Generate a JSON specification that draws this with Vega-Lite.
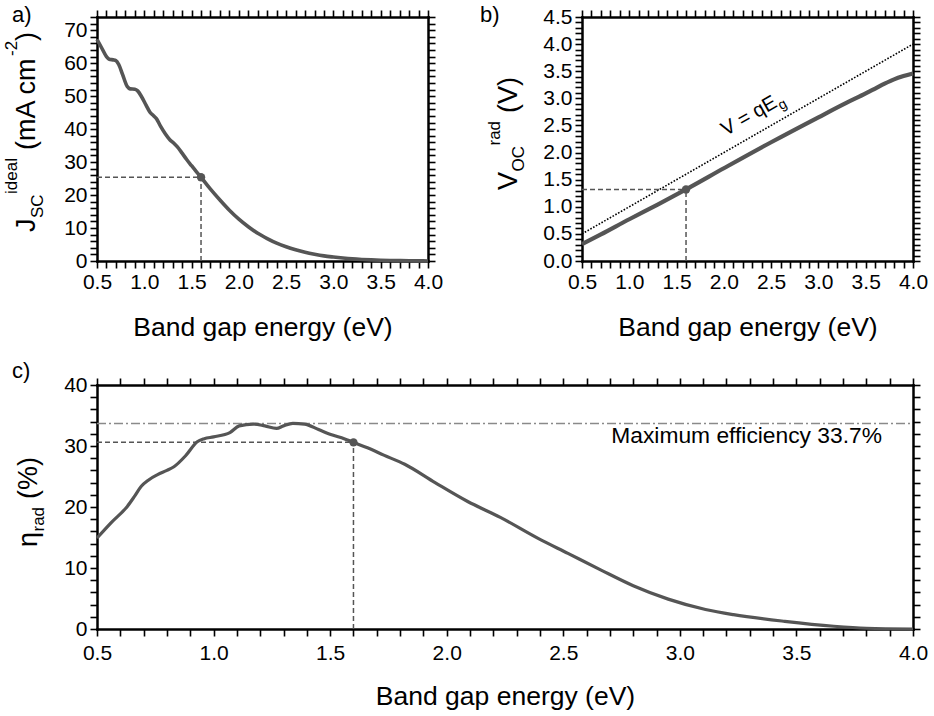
{
  "$schema": "https://vega.github.io/schema/vega-lite/v6.json",
  "background": "white",
  "padding": {"left": 2, "top": 4, "right": 4, "bottom": 4},
  "bounds": "flush",
  "config": {
    "font": "Liberation Sans",
    "view": {"stroke": null},
    "axis": {
      "domainColor": "black", "domainWidth": 2.5, "domainCap": "square",
      "tickColor": "black", "tickWidth": 1.6, "tickSize": 7,
      "labelFont": "Liberation Sans", "labelFontSize": 21, "labelColor": "black", "labelPadding": 3,
      "titleFont": "Liberation Sans", "titleFontSize": 26.5, "titleFontWeight": "normal", "titleColor": "black", "titlePadding": 22,
      "grid": false, "labelOverlap": false, "labelFlush": false, "labelBound": false
    },
    "text": {"font": "Liberation Sans", "color": "black"}
  },
  "datasets": {
    "jsc": [
      {"E": 0.5, "J": 67.2}, {"E": 0.55, "J": 64.6}, {"E": 0.6, "J": 62.0}, {"E": 0.63, "J": 61.2},
      {"E": 0.67, "J": 61.0}, {"E": 0.7, "J": 60.8}, {"E": 0.73, "J": 59.6}, {"E": 0.77, "J": 56.6},
      {"E": 0.82, "J": 52.9}, {"E": 0.85, "J": 52.2}, {"E": 0.9, "J": 52.1}, {"E": 0.93, "J": 51.6},
      {"E": 0.97, "J": 49.9}, {"E": 1.02, "J": 47.2}, {"E": 1.06, "J": 45.1}, {"E": 1.1, "J": 44.0},
      {"E": 1.13, "J": 43.1}, {"E": 1.17, "J": 41.0}, {"E": 1.22, "J": 38.7}, {"E": 1.27, "J": 36.8},
      {"E": 1.31, "J": 35.8}, {"E": 1.35, "J": 34.6}, {"E": 1.4, "J": 32.7}, {"E": 1.45, "J": 30.7},
      {"E": 1.5, "J": 28.9}, {"E": 1.55, "J": 27.1}, {"E": 1.6, "J": 25.4}, {"E": 1.7, "J": 21.8},
      {"E": 1.8, "J": 18.5}, {"E": 1.9, "J": 15.4}, {"E": 2.0, "J": 12.7}, {"E": 2.1, "J": 10.4},
      {"E": 2.2, "J": 8.4}, {"E": 2.3, "J": 6.8}, {"E": 2.4, "J": 5.4}, {"E": 2.5, "J": 4.3},
      {"E": 2.6, "J": 3.4}, {"E": 2.7, "J": 2.65}, {"E": 2.8, "J": 2.05}, {"E": 2.9, "J": 1.55},
      {"E": 3.0, "J": 1.2}, {"E": 3.1, "J": 0.9}, {"E": 3.2, "J": 0.65}, {"E": 3.3, "J": 0.47},
      {"E": 3.4, "J": 0.33}, {"E": 3.5, "J": 0.23}, {"E": 3.6, "J": 0.16}, {"E": 3.7, "J": 0.11},
      {"E": 3.8, "J": 0.07}, {"E": 3.9, "J": 0.04}, {"E": 4.0, "J": 0.02}
    ],
    "voc": [
      {"E": 0.5, "V": 0.31}, {"E": 0.7, "V": 0.49}, {"E": 1.0, "V": 0.77}, {"E": 1.3, "V": 1.04},
      {"E": 1.6, "V": 1.32}, {"E": 2.0, "V": 1.71}, {"E": 2.5, "V": 2.19}, {"E": 3.0, "V": 2.65},
      {"E": 3.3, "V": 2.92}, {"E": 3.5, "V": 3.09}, {"E": 3.6, "V": 3.18}, {"E": 3.7, "V": 3.27},
      {"E": 3.8, "V": 3.35}, {"E": 3.9, "V": 3.41}, {"E": 4.0, "V": 3.46}
    ],
    "vlimit": [
      {"E": 0.5, "V": 0.5}, {"E": 4.0, "V": 4.0}
    ],
    "eff": [
      {"E": 0.5, "n": 14.9}, {"E": 0.56, "n": 17.4}, {"E": 0.63, "n": 20.1}, {"E": 0.66, "n": 21.7},
      {"E": 0.69, "n": 23.4}, {"E": 0.72, "n": 24.4}, {"E": 0.76, "n": 25.3}, {"E": 0.8, "n": 26.0},
      {"E": 0.83, "n": 26.6}, {"E": 0.88, "n": 28.4}, {"E": 0.93, "n": 30.7}, {"E": 0.96, "n": 31.2},
      {"E": 1.0, "n": 31.5}, {"E": 1.07, "n": 32.2}, {"E": 1.11, "n": 33.3}, {"E": 1.17, "n": 33.6},
      {"E": 1.22, "n": 33.3}, {"E": 1.27, "n": 32.9}, {"E": 1.3, "n": 33.3}, {"E": 1.34, "n": 33.7},
      {"E": 1.39, "n": 33.6}, {"E": 1.45, "n": 32.7}, {"E": 1.51, "n": 31.8}, {"E": 1.56, "n": 31.2},
      {"E": 1.6, "n": 30.6}, {"E": 1.66, "n": 29.7}, {"E": 1.73, "n": 28.5}, {"E": 1.82, "n": 27.0},
      {"E": 1.95, "n": 24.0}, {"E": 2.09, "n": 20.9}, {"E": 2.23, "n": 18.3}, {"E": 2.39, "n": 14.9},
      {"E": 2.52, "n": 12.4}, {"E": 2.66, "n": 9.7}, {"E": 2.8, "n": 7.1}, {"E": 2.95, "n": 4.9},
      {"E": 3.11, "n": 3.2}, {"E": 3.23, "n": 2.35}, {"E": 3.45, "n": 1.25}, {"E": 3.66, "n": 0.45},
      {"E": 3.8, "n": 0.12}, {"E": 4.0, "n": 0.0}
    ]
  },
  "vconcat": [
    {
      "bounds": "flush",
      "spacing": 154,
      "hconcat": [
        {
          "width": 331, "height": 244,
          "data": {"name": "jsc"},
          "layer": [
            {
              "mark": {"type": "line", "color": "#555555", "strokeWidth": 3.6, "interpolate": "monotone"},
              "encoding": {
                "x": {"field": "E", "type": "quantitative", "scale": {"domain": [0.5, 4], "nice": false, "zero": false},
                  "axis": {"orient": "bottom", "title": "Band gap energy (eV)", "format": ".1f",
                    "values": [0.5,0.6,0.7,0.8,0.9,1.0,1.1,1.2,1.3,1.4,1.5,1.6,1.7,1.8,1.9,2.0,2.1,2.2,2.3,2.4,2.5,2.6,2.7,2.8,2.9,3.0,3.1,3.2,3.3,3.4,3.5,3.6,3.7,3.8,3.9,4.0],
                    "labelExpr": "abs(datum.value*2-round(datum.value*2)) < 0.01 ? datum.label : ''",
                    "encode": {"ticks": {"update": {"y2": {"signal": "abs(datum.value*2-round(datum.value*2)) < 0.01 ? 7 : 4"}}}}}},
                "y": {"field": "J", "type": "quantitative", "scale": {"domain": [0, 74], "nice": false, "zero": false},
                  "axis": {"orient": "left", "title": null, "format": "d",
                    "values": [0,2,4,6,8,10,12,14,16,18,20,22,24,26,28,30,32,34,36,38,40,42,44,46,48,50,52,54,56,58,60,62,64,66,68,70,72,74],
                    "labelExpr": "datum.value % 10 === 0 ? datum.label : ''",
                    "encode": {"ticks": {"update": {"x2": {"signal": "datum.value % 10 === 0 ? -7 : -4"}}}}}}
              }
            },
            {
              "mark": {"type": "line", "opacity": 0},
              "encoding": {
                "x": {"field": "E", "type": "quantitative", "scale": {"domain": [0.5, 4], "nice": false, "zero": false},
                  "axis": {"orient": "top", "title": null, "labels": false,
                    "values": [0.5,0.6,0.7,0.8,0.9,1.0,1.1,1.2,1.3,1.4,1.5,1.6,1.7,1.8,1.9,2.0,2.1,2.2,2.3,2.4,2.5,2.6,2.7,2.8,2.9,3.0,3.1,3.2,3.3,3.4,3.5,3.6,3.7,3.8,3.9,4.0],
                    "encode": {"ticks": {"update": {"y2": {"signal": "abs(datum.value*2-round(datum.value*2)) < 0.01 ? -7 : -4"}}}}}},
                "y": {"field": "J", "type": "quantitative", "scale": {"domain": [0, 74], "nice": false, "zero": false},
                  "axis": {"orient": "right", "title": null, "labels": false,
                    "values": [0,2,4,6,8,10,12,14,16,18,20,22,24,26,28,30,32,34,36,38,40,42,44,46,48,50,52,54,56,58,60,62,64,66,68,70,72,74],
                    "encode": {"ticks": {"update": {"x2": {"signal": "datum.value % 10 === 0 ? 7 : 4"}}}}}}
              }
            },
            {
              "data": {"values": [{}]},
              "mark": {"type": "rule", "color": "#555555", "strokeWidth": 1.5, "strokeDash": [5, 3]},
              "encoding": {"x": {"datum": 0.5, "axis": null}, "x2": {"datum": 1.6}, "y": {"datum": 25.4, "axis": null}}
            },
            {
              "data": {"values": [{}]},
              "mark": {"type": "rule", "color": "#555555", "strokeWidth": 1.5, "strokeDash": [5, 3]},
              "encoding": {"x": {"datum": 1.6, "axis": null}, "y": {"datum": 0, "axis": null}, "y2": {"datum": 25.4}}
            },
            {
              "data": {"values": [{}]},
              "mark": {"type": "circle", "size": 70, "color": "#555555", "opacity": 1},
              "encoding": {"x": {"datum": 1.6, "axis": null}, "y": {"datum": 25.4, "axis": null}}
            },
            {
              "data": {"values": [{}]},
              "mark": {"type": "text", "text": "a)", "fontSize": 22, "align": "left", "baseline": "alphabetic", "dx": -85, "dy": 5},
              "encoding": {"x": {"datum": 0.5, "axis": null}, "y": {"datum": 74, "axis": null}}
            },
            {
              "data": {"values": [{}]},
              "mark": {"type": "text", "text": "J", "fontSize": 27, "angle": 270, "align": "left", "baseline": "alphabetic", "dx": 29, "dy": -62},
              "encoding": {"x": {"datum": 0.5, "axis": null}, "y": {"datum": 0, "axis": null}}
            },
            {
              "data": {"values": [{}]},
              "mark": {"type": "text", "text": "SC", "fontSize": 17, "angle": 270, "align": "left", "baseline": "alphabetic", "dx": 43, "dy": -54},
              "encoding": {"x": {"datum": 0.5, "axis": null}, "y": {"datum": 0, "axis": null}}
            },
            {
              "data": {"values": [{}]},
              "mark": {"type": "text", "text": "ideal", "fontSize": 17, "angle": 270, "align": "left", "baseline": "alphabetic", "dx": 67, "dy": -80},
              "encoding": {"x": {"datum": 0.5, "axis": null}, "y": {"datum": 0, "axis": null}}
            },
            {
              "data": {"values": [{}]},
              "mark": {"type": "text", "text": "(mA cm", "fontSize": 27, "angle": 270, "align": "left", "baseline": "alphabetic", "dx": 111, "dy": -62},
              "encoding": {"x": {"datum": 0.5, "axis": null}, "y": {"datum": 0, "axis": null}}
            },
            {
              "data": {"values": [{}]},
              "mark": {"type": "text", "text": "-2", "fontSize": 17, "angle": 270, "align": "left", "baseline": "alphabetic", "dx": 205, "dy": -80},
              "encoding": {"x": {"datum": 0.5, "axis": null}, "y": {"datum": 0, "axis": null}}
            },
            {
              "data": {"values": [{}]},
              "mark": {"type": "text", "text": ")", "fontSize": 27, "angle": 270, "align": "left", "baseline": "alphabetic", "dx": 220, "dy": -62},
              "encoding": {"x": {"datum": 0.5, "axis": null}, "y": {"datum": 0, "axis": null}}
            }
          ],
          "resolve": {"axis": {"x": "independent", "y": "independent"}}
        },
        {
          "width": 331, "height": 244,
          "data": {"name": "voc"},
          "layer": [
            {
              "data": {"name": "vlimit"},
              "mark": {"type": "line", "color": "black", "strokeWidth": 1.6, "strokeDash": [1.6, 1.6]},
              "encoding": {
                "x": {"field": "E", "type": "quantitative", "scale": {"domain": [0.5, 4], "nice": false, "zero": false}, "axis": null},
                "y": {"field": "V", "type": "quantitative", "scale": {"domain": [0, 4.5], "nice": false, "zero": false}, "axis": null}
              }
            },
            {
              "mark": {"type": "line", "color": "#555555", "strokeWidth": 4.2, "interpolate": "monotone"},
              "encoding": {
                "x": {"field": "E", "type": "quantitative", "scale": {"domain": [0.5, 4], "nice": false, "zero": false},
                  "axis": {"orient": "bottom", "title": "Band gap energy (eV)", "format": ".1f",
                    "values": [0.5,0.6,0.7,0.8,0.9,1.0,1.1,1.2,1.3,1.4,1.5,1.6,1.7,1.8,1.9,2.0,2.1,2.2,2.3,2.4,2.5,2.6,2.7,2.8,2.9,3.0,3.1,3.2,3.3,3.4,3.5,3.6,3.7,3.8,3.9,4.0],
                    "labelExpr": "abs(datum.value*2-round(datum.value*2)) < 0.01 ? datum.label : ''",
                    "encode": {"ticks": {"update": {"y2": {"signal": "abs(datum.value*2-round(datum.value*2)) < 0.01 ? 7 : 4"}}}}}},
                "y": {"field": "V", "type": "quantitative", "scale": {"domain": [0, 4.5], "nice": false, "zero": false},
                  "axis": {"orient": "left", "title": null, "format": ".1f",
                    "values": [0,0.1,0.2,0.3,0.4,0.5,0.6,0.7,0.8,0.9,1.0,1.1,1.2,1.3,1.4,1.5,1.6,1.7,1.8,1.9,2.0,2.1,2.2,2.3,2.4,2.5,2.6,2.7,2.8,2.9,3.0,3.1,3.2,3.3,3.4,3.5,3.6,3.7,3.8,3.9,4.0,4.1,4.2,4.3,4.4,4.5],
                    "labelExpr": "abs(datum.value*2-round(datum.value*2)) < 0.01 ? datum.label : ''",
                    "encode": {"ticks": {"update": {"x2": {"signal": "abs(datum.value*2-round(datum.value*2)) < 0.01 ? -7 : -4"}}}}}}
              }
            },
            {
              "mark": {"type": "line", "opacity": 0},
              "encoding": {
                "x": {"field": "E", "type": "quantitative", "scale": {"domain": [0.5, 4], "nice": false, "zero": false},
                  "axis": {"orient": "top", "title": null, "labels": false,
                    "values": [0.5,0.6,0.7,0.8,0.9,1.0,1.1,1.2,1.3,1.4,1.5,1.6,1.7,1.8,1.9,2.0,2.1,2.2,2.3,2.4,2.5,2.6,2.7,2.8,2.9,3.0,3.1,3.2,3.3,3.4,3.5,3.6,3.7,3.8,3.9,4.0],
                    "encode": {"ticks": {"update": {"y2": {"signal": "abs(datum.value*2-round(datum.value*2)) < 0.01 ? -7 : -4"}}}}}},
                "y": {"field": "V", "type": "quantitative", "scale": {"domain": [0, 4.5], "nice": false, "zero": false},
                  "axis": {"orient": "right", "title": null, "labels": false,
                    "values": [0,0.1,0.2,0.3,0.4,0.5,0.6,0.7,0.8,0.9,1.0,1.1,1.2,1.3,1.4,1.5,1.6,1.7,1.8,1.9,2.0,2.1,2.2,2.3,2.4,2.5,2.6,2.7,2.8,2.9,3.0,3.1,3.2,3.3,3.4,3.5,3.6,3.7,3.8,3.9,4.0,4.1,4.2,4.3,4.4,4.5],
                    "encode": {"ticks": {"update": {"x2": {"signal": "abs(datum.value*2-round(datum.value*2)) < 0.01 ? 7 : 4"}}}}}}
              }
            },
            {
              "data": {"values": [{}]},
              "mark": {"type": "rule", "color": "#555555", "strokeWidth": 1.5, "strokeDash": [5, 3]},
              "encoding": {"x": {"datum": 0.5, "axis": null}, "x2": {"datum": 1.6}, "y": {"datum": 1.32, "axis": null}}
            },
            {
              "data": {"values": [{}]},
              "mark": {"type": "rule", "color": "#555555", "strokeWidth": 1.5, "strokeDash": [5, 3]},
              "encoding": {"x": {"datum": 1.6, "axis": null}, "y": {"datum": 0, "axis": null}, "y2": {"datum": 1.32}}
            },
            {
              "data": {"values": [{}]},
              "mark": {"type": "circle", "size": 70, "color": "#555555", "opacity": 1},
              "encoding": {"x": {"datum": 1.6, "axis": null}, "y": {"datum": 1.32, "axis": null}}
            },
            {
              "data": {"values": [{}]},
              "mark": {"type": "text", "text": "V = qE", "fontSize": 20, "angle": 330.24, "align": "left", "baseline": "alphabetic"},
              "encoding": {"x": {"datum": 2.02, "axis": null}, "y": {"datum": 2.3, "axis": null}}
            },
            {
              "data": {"values": [{}]},
              "mark": {"type": "text", "text": "g", "fontSize": 14, "angle": 330.24, "align": "left", "baseline": "alphabetic", "dx": 61, "dy": 5},
              "encoding": {"x": {"datum": 2.02, "axis": null}, "y": {"datum": 2.3, "axis": null}}
            },
            {
              "data": {"values": [{}]},
              "mark": {"type": "text", "text": "b)", "fontSize": 22, "align": "left", "baseline": "alphabetic", "dx": -102, "dy": 5},
              "encoding": {"x": {"datum": 0.5, "axis": null}, "y": {"datum": 4.5, "axis": null}}
            },
            {
              "data": {"values": [{}]},
              "mark": {"type": "text", "text": "V", "fontSize": 27, "angle": 270, "align": "left", "baseline": "alphabetic", "dx": 71, "dy": -65},
              "encoding": {"x": {"datum": 0.5, "axis": null}, "y": {"datum": 0, "axis": null}}
            },
            {
              "data": {"values": [{}]},
              "mark": {"type": "text", "text": "OC", "fontSize": 17, "angle": 270, "align": "left", "baseline": "alphabetic", "dx": 89.5, "dy": -58},
              "encoding": {"x": {"datum": 0.5, "axis": null}, "y": {"datum": 0, "axis": null}}
            },
            {
              "data": {"values": [{}]},
              "mark": {"type": "text", "text": "rad", "fontSize": 17, "angle": 270, "align": "left", "baseline": "alphabetic", "dx": 115.5, "dy": -82},
              "encoding": {"x": {"datum": 0.5, "axis": null}, "y": {"datum": 0, "axis": null}}
            },
            {
              "data": {"values": [{}]},
              "mark": {"type": "text", "text": "(V)", "fontSize": 27, "angle": 270, "align": "left", "baseline": "alphabetic", "dx": 148, "dy": -65},
              "encoding": {"x": {"datum": 0.5, "axis": null}, "y": {"datum": 0, "axis": null}}
            }
          ],
          "resolve": {"axis": {"x": "independent", "y": "independent"}}
        }
      ]
    },
    {
      "width": 816, "height": 244,
      "data": {"name": "eff"},
      "layer": [
        {
          "data": {"values": [{}]},
          "mark": {"type": "rule", "color": "#8a8a8a", "strokeWidth": 1.5, "strokeDash": [9, 3, 2, 3]},
          "encoding": {"x": {"datum": 0.5, "axis": null}, "x2": {"datum": 4.0}, "y": {"datum": 33.7, "axis": null}}
        },
        {
          "mark": {"type": "line", "color": "#555555", "strokeWidth": 3.2, "interpolate": "monotone"},
          "encoding": {
            "x": {"field": "E", "type": "quantitative", "scale": {"domain": [0.5, 4], "nice": false, "zero": false},
              "axis": {"orient": "bottom", "title": "Band gap energy (eV)", "format": ".1f", "labelPadding": 6, "titlePadding": 20,
                "values": [0.5,0.6,0.7,0.8,0.9,1.0,1.1,1.2,1.3,1.4,1.5,1.6,1.7,1.8,1.9,2.0,2.1,2.2,2.3,2.4,2.5,2.6,2.7,2.8,2.9,3.0,3.1,3.2,3.3,3.4,3.5,3.6,3.7,3.8,3.9,4.0],
                "labelExpr": "abs(datum.value*2-round(datum.value*2)) < 0.01 ? datum.label : ''",
                "encode": {"ticks": {"update": {"y2": {"signal": "abs(datum.value*2-round(datum.value*2)) < 0.01 ? 7 : 4"}}}}}},
            "y": {"field": "n", "type": "quantitative", "scale": {"domain": [0, 40], "nice": false, "zero": false},
              "axis": {"orient": "left", "title": null, "format": "d",
                "values": [0,2,4,6,8,10,12,14,16,18,20,22,24,26,28,30,32,34,36,38,40],
                "labelExpr": "datum.value % 10 === 0 ? datum.label : ''",
                "encode": {"ticks": {"update": {"x2": {"signal": "datum.value % 10 === 0 ? -7 : -4"}}}}}}
          }
        },
        {
          "mark": {"type": "line", "opacity": 0},
          "encoding": {
            "x": {"field": "E", "type": "quantitative", "scale": {"domain": [0.5, 4], "nice": false, "zero": false},
              "axis": {"orient": "top", "title": null, "labels": false,
                "values": [0.5,0.6,0.7,0.8,0.9,1.0,1.1,1.2,1.3,1.4,1.5,1.6,1.7,1.8,1.9,2.0,2.1,2.2,2.3,2.4,2.5,2.6,2.7,2.8,2.9,3.0,3.1,3.2,3.3,3.4,3.5,3.6,3.7,3.8,3.9,4.0],
                "encode": {"ticks": {"update": {"y2": {"signal": "abs(datum.value*2-round(datum.value*2)) < 0.01 ? -7 : -4"}}}}}},
            "y": {"field": "n", "type": "quantitative", "scale": {"domain": [0, 40], "nice": false, "zero": false},
              "axis": {"orient": "right", "title": null, "labels": false,
                "values": [0,2,4,6,8,10,12,14,16,18,20,22,24,26,28,30,32,34,36,38,40],
                "encode": {"ticks": {"update": {"x2": {"signal": "datum.value % 10 === 0 ? 7 : 4"}}}}}}
          }
        },
        {
          "data": {"values": [{}]},
          "mark": {"type": "rule", "color": "#555555", "strokeWidth": 1.5, "strokeDash": [5, 3]},
          "encoding": {"x": {"datum": 0.5, "axis": null}, "x2": {"datum": 1.6}, "y": {"datum": 30.6, "axis": null}}
        },
        {
          "data": {"values": [{}]},
          "mark": {"type": "rule", "color": "#555555", "strokeWidth": 1.5, "strokeDash": [5, 3]},
          "encoding": {"x": {"datum": 1.6, "axis": null}, "y": {"datum": 0, "axis": null}, "y2": {"datum": 30.6}}
        },
        {
          "data": {"values": [{}]},
          "mark": {"type": "circle", "size": 70, "color": "#555555", "opacity": 1},
          "encoding": {"x": {"datum": 1.6, "axis": null}, "y": {"datum": 30.6, "axis": null}}
        },
        {
          "data": {"values": [{}]},
          "mark": {"type": "text", "text": "Maximum efficiency 33.7%", "fontSize": 22.8, "align": "right", "baseline": "alphabetic"},
          "encoding": {"x": {"datum": 3.867, "axis": null}, "y": {"datum": 30.45, "axis": null}}
        },
        {
          "data": {"values": [{}]},
          "mark": {"type": "text", "text": "c)", "fontSize": 22, "align": "left", "baseline": "alphabetic", "dx": -85, "dy": -7},
          "encoding": {"x": {"datum": 0.5, "axis": null}, "y": {"datum": 40, "axis": null}}
        },
        {
          "data": {"values": [{}]},
          "mark": {"type": "text", "text": "η", "fontSize": 27, "angle": 270, "align": "left", "baseline": "alphabetic", "dx": 82, "dy": -60},
          "encoding": {"x": {"datum": 0.5, "axis": null}, "y": {"datum": 0, "axis": null}}
        },
        {
          "data": {"values": [{}]},
          "mark": {"type": "text", "text": "rad", "fontSize": 17, "angle": 270, "align": "left", "baseline": "alphabetic", "dx": 97.5, "dy": -53},
          "encoding": {"x": {"datum": 0.5, "axis": null}, "y": {"datum": 0, "axis": null}}
        },
        {
          "data": {"values": [{}]},
          "mark": {"type": "text", "text": "(%)", "fontSize": 27, "angle": 270, "align": "left", "baseline": "alphabetic", "dx": 130, "dy": -60},
          "encoding": {"x": {"datum": 0.5, "axis": null}, "y": {"datum": 0, "axis": null}}
        }
      ],
      "resolve": {"axis": {"x": "independent", "y": "independent"}}
    }
  ],
  "spacing": 368
}
